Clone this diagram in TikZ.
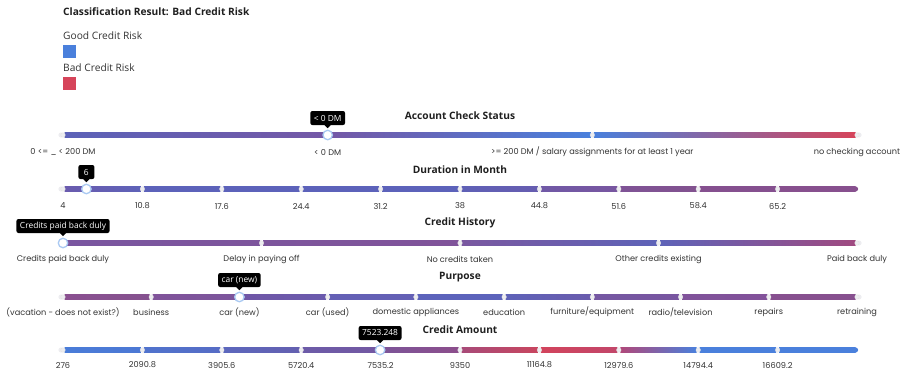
\documentclass[tikz,border=0pt]{standalone}
\usepackage{fontspec}
\setmainfont{Open Sans}
\newfontfamily\labfont{Poppins}
\definecolor{gb}{HTML}{4A80DC}
\definecolor{rd}{HTML}{D6445A}
\definecolor{thumbblue}{HTML}{A9C9F2}
\definecolor{tickgray}{HTML}{EDEDF0}
\definecolor{txt}{HTML}{333333}
\begin{document}
\begin{tikzpicture}[x=1pt,y=-1pt,
  ttl/.style={font=\bfseries\fontsize{10.2}{12}\selectfont, text=black!88},
  lab/.style={font=\labfont\fontsize{8.2}{9}\selectfont, text=txt},
  tip/.style={fill=black, rounded corners=2pt, text=white, font=\fontsize{8.4}{9}\selectfont, inner xsep=3.5pt, inner ysep=0pt, minimum height=14pt},
  thumb/.style={circle, draw=thumbblue, fill=white, line width=1.3pt, minimum size=9.5pt, inner sep=0pt},
  tickdot/.style={circle, fill=tickgray, draw=black!12, line width=0.3pt, minimum size=4.6pt, inner sep=0pt}]
\useasboundingbox (0,0) rectangle (907,373);

% ---- header and legend ----
\node[anchor=west, font=\bfseries\fontsize{10.2}{12}\selectfont, text=black!88, inner sep=0pt] (head) at (63,12) {Classification Result: Bad Credit Risk};
\node[anchor=west, font=\fontsize{10.2}{12}\selectfont, text=txt, inner sep=0pt] (goodlab) at (63,36) {Good Credit Risk};
\node[fill=gb, minimum size=13pt, inner sep=0pt, anchor=north west] (goodsq) at (63,45) {};
\node[anchor=west, font=\fontsize{10.2}{12}\selectfont, text=txt, inner sep=0pt] (badlab) at (63,68) {Bad Credit Risk};
\node[fill=rd, minimum size=13pt, inner sep=0pt, anchor=north west] (badsq) at (63,77) {};

% ================= Account Check Status =================
\def\yy{135}
\node[ttl] (t1) at (460,116) {Account Check Status};
\fill[tickgray] (61,\yy) circle (2.6);
\fill[tickgray] (859,\yy) circle (2.6);
\foreach \i/\ca/\cb in {0/5C62B8/7458A6, 1/7458A6/4A80DC, 2/4A80DC/D6445A}{
  \definecolor{ca}{HTML}{\ca}\definecolor{cb}{HTML}{\cb}
  \pgfmathsetmacro\xa{63+\i*264.667+1.5}\pgfmathsetmacro\xb{63+(\i+1)*264.667-1.5}
  \shade[left color=ca, right color=cb] (\xa,\yy-2.6) rectangle (\xb,\yy+2.6);
}
\foreach \i/\l in {0/{0 <= \_ < 200 DM}, 1/{< 0 DM}, 2/{>= 200 DM / salary assignments for at least 1 year}, 3/{no checking account}}{
  \pgfmathsetmacro\xt{63+\i*264.667}
  \node[tickdot] (a\i) at (\xt,\yy) {};
  \node[lab] (al\i) at (\xt,152) {\l};
}
\node[thumb] (th1) at (327.7,\yy) {};
\node[tip] (tip1) at (327.7,118) {< 0 DM};
\fill (tip1.south) ++(-3,0) -- ++(6,0) -- ++(-3,3) -- cycle;

% ================= Duration in Month =================
\def\yy{189}
\node[ttl] (t2) at (460,170) {Duration in Month};
\fill[tickgray] (61,\yy) circle (2.6);
\foreach \i/\ca/\cb in {0/6A5BAE/5E62B8, 1/5C62BA/5C62BA, 2/5C62BA/5C62BA, 3/5C62BA/5C62BA, 4/5C62BA/5C62BA, 5/5F60B6/665DB0, 6/7059A6/7856A0, 7/7F5396/82528F, 8/85508F/85508F, 9/87508E/87508E}{
  \definecolor{ca}{HTML}{\ca}\definecolor{cb}{HTML}{\cb}
  \pgfmathsetmacro\xa{63+\i*79.4+1.5}\pgfmathsetmacro\xb{63+(\i+1)*79.4-1.5}
  \shade[left color=ca, right color=cb] (\xa,\yy-2.6) rectangle (\xb,\yy+2.6);
}
\fill[color={rgb,255:red,135;green,80;blue,142}] (855.5,\yy) circle (2.6);
\foreach \i/\l in {0/4, 1/10.8, 2/17.6, 3/24.4, 4/31.2, 5/38, 6/44.8, 7/51.6, 8/58.4, 9/65.2}{
  \pgfmathsetmacro\xt{63+\i*79.4}
  \node[tickdot] (d\i) at (\xt,\yy) {};
  \node[lab] (dl\i) at (\xt,206) {\l};
}
\node[thumb] (th2) at (86.4,\yy) {};
\node[tip, minimum width=16pt] (tip2) at (86.4,172) {6};
\fill (tip2.south) ++(-3,0) -- ++(6,0) -- ++(-3,3) -- cycle;

% ================= Credit History =================
\def\yy{243}
\node[ttl] (t3) at (460,223) {Credit History};
\fill[tickgray] (859,\yy) circle (2.6);
\foreach \i/\ca/\cb in {0/7A56A0/7D559C, 1/7D559C/80549A, 2/7A58A0/5E63B8, 3/5E63B8/A04A80}{
  \definecolor{ca}{HTML}{\ca}\definecolor{cb}{HTML}{\cb}
  \pgfmathsetmacro\xa{63+\i*198.5+1.5}\pgfmathsetmacro\xb{63+(\i+1)*198.5-1.5}
  \shade[left color=ca, right color=cb] (\xa,\yy-2.6) rectangle (\xb,\yy+2.6);
}
\foreach \i/\l in {0/{Credits paid back duly}, 1/{Delay in paying off}, 2/{No credits taken}, 3/{Other credits existing}, 4/{Paid back duly}}{
  \pgfmathsetmacro\xt{63+\i*198.5}
  \node[tickdot] (h\i) at (\xt,\yy) {};
  \node[lab] (hl\i) at (\xt,259) {\l};
}
\node[thumb] (th3) at (63,\yy) {};
\node[tip] (tip3) at (63,226) {Credits paid back duly};
\fill (tip3.south) ++(-3,0) -- ++(6,0) -- ++(-3,3) -- cycle;

% ================= Purpose =================
\def\yy{297}
\node[ttl] (t4) at (460,277) {Purpose};
\fill[tickgray] (61,\yy) circle (2.6);
\fill[tickgray] (859,\yy) circle (2.6);
\foreach \i/\ca/\cb in {0/8A5090/85528F, 1/80549A/7C559C, 2/7057A6/6A5AAD, 3/6460B5/6460B5, 4/5C63BB/5C63BB, 5/5E62B8/6A5CAD, 6/7557A2/7856A0, 7/80539A/82529A, 8/87508F/87508F}{
  \definecolor{ca}{HTML}{\ca}\definecolor{cb}{HTML}{\cb}
  \pgfmathsetmacro\xa{63+\i*88.222+1.5}\pgfmathsetmacro\xb{63+(\i+1)*88.222-1.5}
  \shade[left color=ca, right color=cb] (\xa,\yy-2.6) rectangle (\xb,\yy+2.6);
}
\foreach \i/\l in {0/{(vacation - does not exist?)}, 1/business, 2/{car (new)}, 3/{car (used)}, 4/{domestic appliances}, 5/education, 6/{furniture/equipment}, 7/{radio/television}, 8/repairs, 9/retraining}{
  \pgfmathsetmacro\xt{63+\i*88.222}
  \node[tickdot] (p\i) at (\xt,\yy) {};
  \node[lab] (pl\i) at (\xt,312) {\l};
}
\node[thumb] (th4) at (239.4,\yy) {};
\node[tip] (tip4) at (239.4,280) {car (new)};
\fill (tip4.south) ++(-3,0) -- ++(6,0) -- ++(-3,3) -- cycle;

% ================= Credit Amount =================
\def\yy{350}
\node[ttl] (t5) at (460,330) {Credit Amount};
\fill[tickgray] (61,\yy) circle (2.6);
\foreach \i/\ca/\cb in {0/4A7CD8/4C78D4, 1/5073CD/566CC5, 2/5C67BD/6460B0, 3/6C5BA8/7358A2, 4/7C5498/8C4E8C, 5/A84A78/C8465F, 6/D2445C/C2466A, 7/B0487A/4A80DC, 8/4A80DC/4A80DC, 9/4A80DC/4A80DC}{
  \definecolor{ca}{HTML}{\ca}\definecolor{cb}{HTML}{\cb}
  \pgfmathsetmacro\xa{63+\i*79.4+1.5}\pgfmathsetmacro\xb{63+(\i+1)*79.4-1.5}
  \shade[left color=ca, right color=cb] (\xa,\yy-2.6) rectangle (\xb,\yy+2.6);
}
\fill[gb] (855.5,\yy) circle (2.6);
\foreach \i/\l in {0/276, 1/2090.8, 2/3905.6, 3/5720.4, 4/7535.2, 5/9350, 6/11164.8, 7/12979.6, 8/14794.4, 9/16609.2}{
  \pgfmathsetmacro\xt{63+\i*79.4}
  \node[tickdot] (c\i) at (\xt,\yy) {};
  \node[lab] (cl\i) at (\xt,365) {\l};
}
\node[thumb] (th5) at (380.1,\yy) {};
\node[tip] (tip5) at (380.1,333) {7523.248};
\fill (tip5.south) ++(-3,0) -- ++(6,0) -- ++(-3,3) -- cycle;
\end{tikzpicture}
\end{document}
